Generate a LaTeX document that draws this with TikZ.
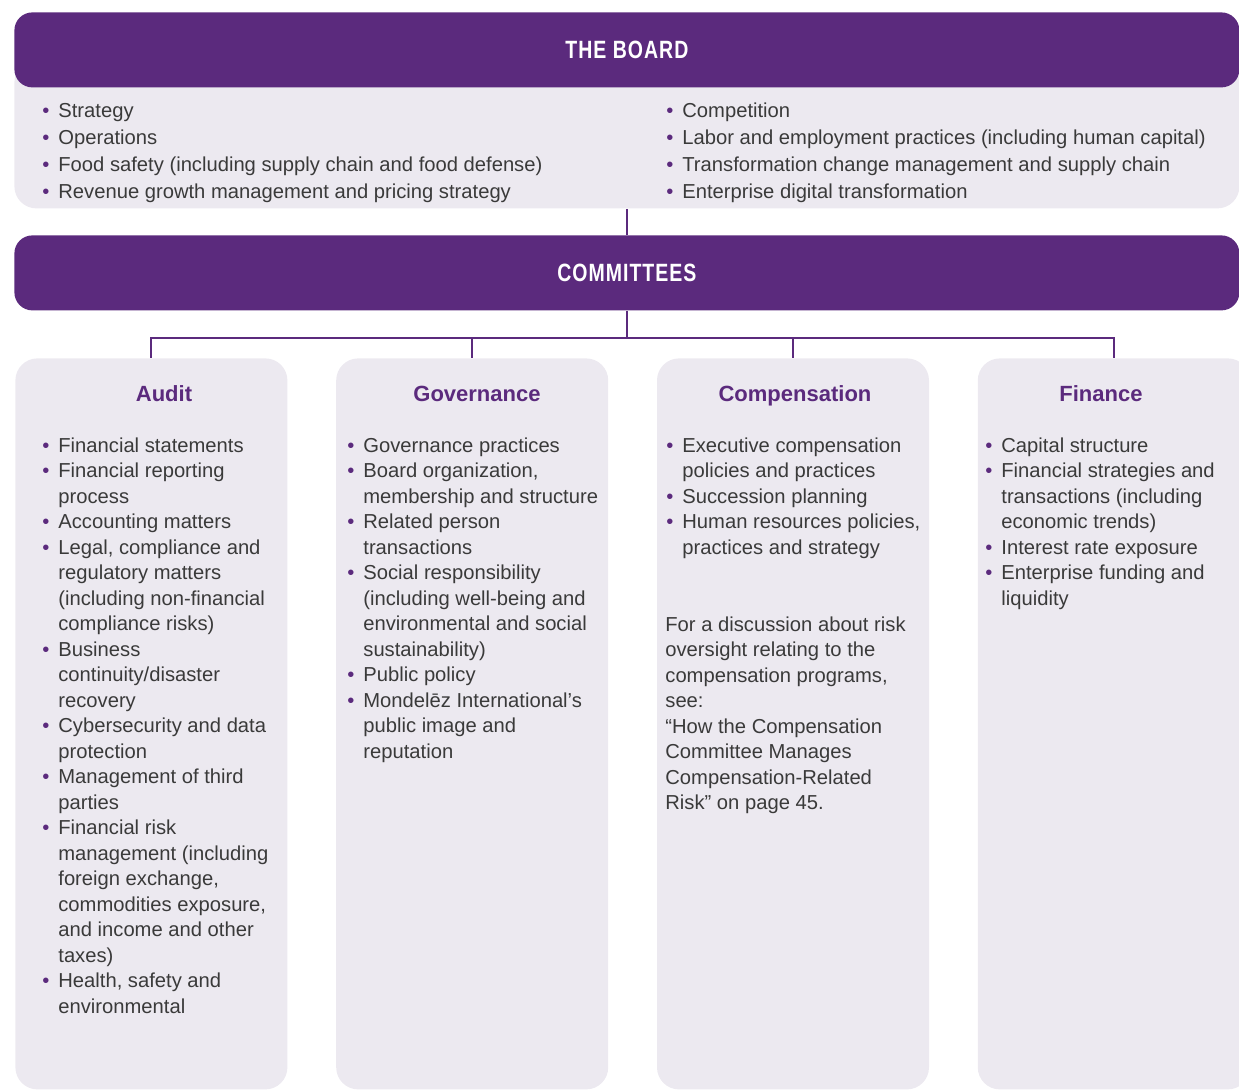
\documentclass[tikz,border=0pt]{standalone}
\usepackage{fontspec}
\setmainfont{Liberation Sans}
\newfontfamily\bannerfont[FakeStretch=0.78, LetterSpace=4]{Liberation Sans}
\usetikzlibrary{positioning}
\definecolor{mzpurple}{RGB}{91,42,125}
\definecolor{panelgray}{RGB}{236,233,240}
\definecolor{bodytext}{RGB}{58,58,58}
\newcommand{\bul}{\llap{\textcolor{mzpurple}{\textbullet}\hspace{4.5pt}}}

\tikzset{
  banner/.style={fill=mzpurple, rounded corners=9pt, inner sep=0pt, anchor=north west,
    minimum width=612.5pt, minimum height=37.5pt, text=white,
    font=\bannerfont\bfseries\fontsize{12.5}{15}\selectfont},
  panel/.style={fill=panelgray, rounded corners=11pt, inner sep=0pt, anchor=north west},
  cmtbox/.style={panel, minimum width=136pt, minimum height=365.5pt},
  cmtitle/.style={text=mzpurple, inner sep=0pt, anchor=base, font=\bfseries\fontsize{11}{13}\selectfont},
  itemlist/.style={anchor=north west, inner sep=0pt, align=left, text=bodytext,
    font=\fontsize{10.1}{12.75}\selectfont},
  link/.style={draw=mzpurple, line width=1pt}
}

\begin{document}
\begin{tikzpicture}[x=0.5pt, y=-0.5pt]
	\useasboundingbox (0,0) rectangle (1239,1091);
	% Board
	\node[panel, minimum width=612.5pt, minimum height=74pt] (boardbox) at (14,60) {};
	\node[banner] (board) at (14,12) {THE BOARD};
	\node[itemlist, font=\fontsize{10.1}{13.5}\selectfont] (boardleft) at (58,98) {\strut\bul Strategy\\
		\bul Operations\\
		\bul Food safety (including supply chain and food defense)\\
		\bul Revenue growth management and pricing strategy};
	\node[itemlist, font=\fontsize{10.1}{13.5}\selectfont] (boardright) at (682,98) {\strut\bul Competition\\
		\bul Labor and employment practices (including human capital)\\
		\bul Transformation change management and supply chain\\
		\bul Enterprise digital transformation};
	% Committees
	\node[banner] (cmte) at (14,235) {COMMITTEES};
	\node[cmtbox] (audit) at (15,358) {};
	\node[cmtbox, right=24pt of audit] (gov) {};
	\node[cmtbox, right=24pt of gov] (comp) {};
	\node[cmtbox, right=24pt of comp] (fin) {};
	% Lines
	\draw[link] (boardbox.south) -- (cmte.north);
	\draw[link] (cmte.south) -- ++(0,27) coordinate (hub);
	\foreach \b in {audit,gov,comp,fin}
		\draw[link] (hub) -| (\b.north);
	% Titles
	\node[cmtitle] (audittitle) at (164,402) {Audit};
	\node[cmtitle] (govtitle) at (477,402) {Governance};
	\node[cmtitle] (comptitle) at (795,402) {Compensation};
	\node[cmtitle] (fintitle) at (1101,402) {Finance};
	% Audit column
	\node[itemlist] (auditlist) at (58,434) {\strut\bul Financial statements\\
		\bul Financial reporting\\ process\\
		\bul Accounting matters\\
		\bul Legal, compliance and\\ regulatory matters\\ (including non-financial\\ compliance risks)\\
		\bul Business\\ continuity/disaster\\ recovery\\
		\bul Cybersecurity and data\\ protection\\
		\bul Management of third\\ parties\\
		\bul Financial risk\\ management (including\\ foreign exchange,\\ commodities exposure,\\ and income and other\\ taxes)\\
		\bul Health, safety and\\ environmental};
	% Governance column
	\node[itemlist] (govlist) at (363,434) {\strut\bul Governance practices\\
		\bul Board organization,\\ membership and structure\\
		\bul Related person\\ transactions\\
		\bul Social responsibility\\ (including well-being and\\ environmental and social\\ sustainability)\\
		\bul Public policy\\
		\bul Mondelēz International’s\\ public image and\\ reputation};
	% Compensation column
	\node[itemlist] (complist) at (682,434) {\strut\bul Executive compensation\\ policies and practices\\
		\bul Succession planning\\
		\bul Human resources policies,\\ practices and strategy};
	\node[itemlist] (compnote) at (665,613) {\strut For a discussion about risk\\ oversight relating to the\\
		compensation programs,\\ see:\\ “How the Compensation\\ Committee Manages\\
		Compensation-Related\\ Risk” on page 45.};
	% Finance column
	\node[itemlist] (finlist) at (1001,434) {\strut\bul Capital structure\\
		\bul Financial strategies and\\ transactions (including\\ economic trends)\\
		\bul Interest rate exposure\\
		\bul Enterprise funding and\\ liquidity};
\end{tikzpicture}
\end{document}
